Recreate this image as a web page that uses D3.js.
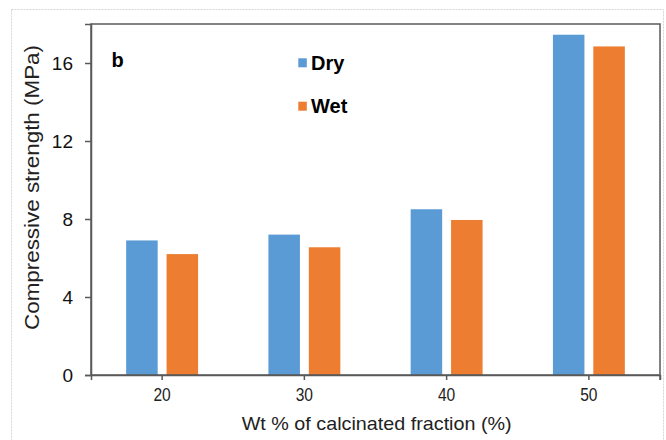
<!DOCTYPE html>
<html>
<head>
<meta charset="utf-8">
<script src="https://cdn.jsdelivr.net/npm/d3@7"></script>
<style>
  body { margin: 0; background: #fff; }
  svg { display: block; font-family: "Liberation Sans", Arial, sans-serif; }
</style>
</head>
<body>
<svg id="chart" width="666" height="440"></svg>
<script>
// Compressive strength by calcinated fraction, dry vs wet
const categories = ["20", "30", "40", "50"];
const seriesNames = ["Dry", "Wet"];
const dryValues = [6.9, 7.2, 8.5, 17.45];
const wetValues = [6.2, 6.55, 7.95, 16.85];
const yTicks = [0, 4, 8, 12, 16];
const seriesColors = ["#5B9BD5", "#ED7D31"];

const svg = d3.select("#chart");
const W = 666, H = 440;
const plot = { left: 91, top: 24, right: 660, bottom: 375 };
const axisColor = "#595959";
const textColor = "#111";

// outer chart-area frame
svg.append("rect")
  .attr("x", 11.5).attr("y", 9.5)
  .attr("width", 652).attr("height", 450)
  .attr("fill", "none")
  .attr("stroke", "#d6d6d6")
  .attr("stroke-dasharray", "2,1");

const x = d3.scaleBand().domain(categories).range([plot.left, plot.right]).padding(0);
const xInner = d3.scaleBand().domain(seriesNames).range([0, x.bandwidth()])
  .paddingInner(0.22).paddingOuter(0.87);
const y = d3.scaleLinear().domain([0, 18]).range([plot.bottom, plot.top]);

const rows = categories.map((c, i) => ({ cat: c, vals: [dryValues[i], wetValues[i]] }));

// bars
const groups = svg.append("g").selectAll("g").data(rows).join("g")
  .attr("transform", d => `translate(${x(d.cat)},0)`);
groups.selectAll("rect")
  .data(d => d.vals.map((v, j) => ({ name: seriesNames[j], v, j })))
  .join("rect")
  .attr("x", d => xInner(d.name))
  .attr("width", xInner.bandwidth())
  .attr("y", d => y(d.v))
  .attr("height", d => y(0) - y(d.v))
  .attr("fill", d => seriesColors[d.j]);

// plot border
svg.append("rect")
  .attr("x", plot.left).attr("y", plot.top)
  .attr("width", plot.right - plot.left).attr("height", plot.bottom - plot.top)
  .attr("fill", "none").attr("stroke", axisColor).attr("stroke-width", 1.5);
svg.append("line")
  .attr("x1", plot.right).attr("x2", plot.right)
  .attr("y1", plot.bottom).attr("y2", plot.bottom + 5)
  .attr("stroke", axisColor).attr("stroke-width", 1.5);

// y axis
const yAxis = svg.append("g")
  .attr("transform", `translate(${plot.left},0)`)
  .call(d3.axisLeft(y).tickValues(yTicks).tickSize(6).tickPadding(12));
yAxis.select(".domain").attr("stroke", axisColor).attr("stroke-width", 1.5);
yAxis.selectAll(".tick line").attr("stroke", axisColor).attr("stroke-width", 1.5);
yAxis.selectAll(".tick text")
  .attr("fill", textColor)
  .style("font-size", "19px")
  .style("font-family", "'Liberation Sans', Arial, sans-serif");

// x axis
const xAxis = svg.append("g")
  .attr("transform", `translate(0,${plot.bottom})`)
  .call(d3.axisBottom(x).tickSize(5));
xAxis.select(".domain").attr("stroke", axisColor).attr("stroke-width", 1.5);
xAxis.selectAll(".tick line").attr("stroke", axisColor).attr("stroke-width", 1.5);
xAxis.selectAll(".tick text")
  .attr("dy", null)
  .attr("y", 26)
  .attr("transform", "scale(0.82,1)")
  .attr("fill", "#222")
  .style("font-size", "19px")
  .style("font-family", "'Liberation Sans', Arial, sans-serif");

// axis titles
svg.append("text")
  .attr("x", 376.7).attr("y", 430)
  .attr("text-anchor", "middle")
  .attr("textLength", 270).attr("lengthAdjust", "spacingAndGlyphs")
  .attr("fill", "#222")
  .style("font-size", "19px")
  .text("Wt % of calcinated fraction (%)");

svg.append("text")
  .attr("transform", "translate(38.5,187.5) rotate(-90)")
  .attr("text-anchor", "middle")
  .attr("textLength", 285).attr("lengthAdjust", "spacingAndGlyphs")
  .attr("fill", "#222")
  .style("font-size", "20px")
  .text("Compressive strength (MPa)");

// panel letter
svg.append("text")
  .attr("x", 111.5).attr("y", 66.7)
  .attr("fill", "#000")
  .style("font-size", "20px").style("font-weight", "bold")
  .text("b");

// legend
const legendRows = [58.3, 101.7];
const legend = svg.append("g").selectAll("g").data(seriesNames).join("g")
  .attr("transform", (d, i) => `translate(298.3,${legendRows[i]})`);
legend.append("rect")
  .attr("width", 8.5).attr("height", 9)
  .attr("fill", (d, i) => seriesColors[i]);
legend.append("text")
  .attr("x", 12.7).attr("y", 11.5)
  .attr("fill", "#000")
  .style("font-size", "20px").style("font-weight", "bold")
  .text(d => d);
</script>
</body>
</html>
